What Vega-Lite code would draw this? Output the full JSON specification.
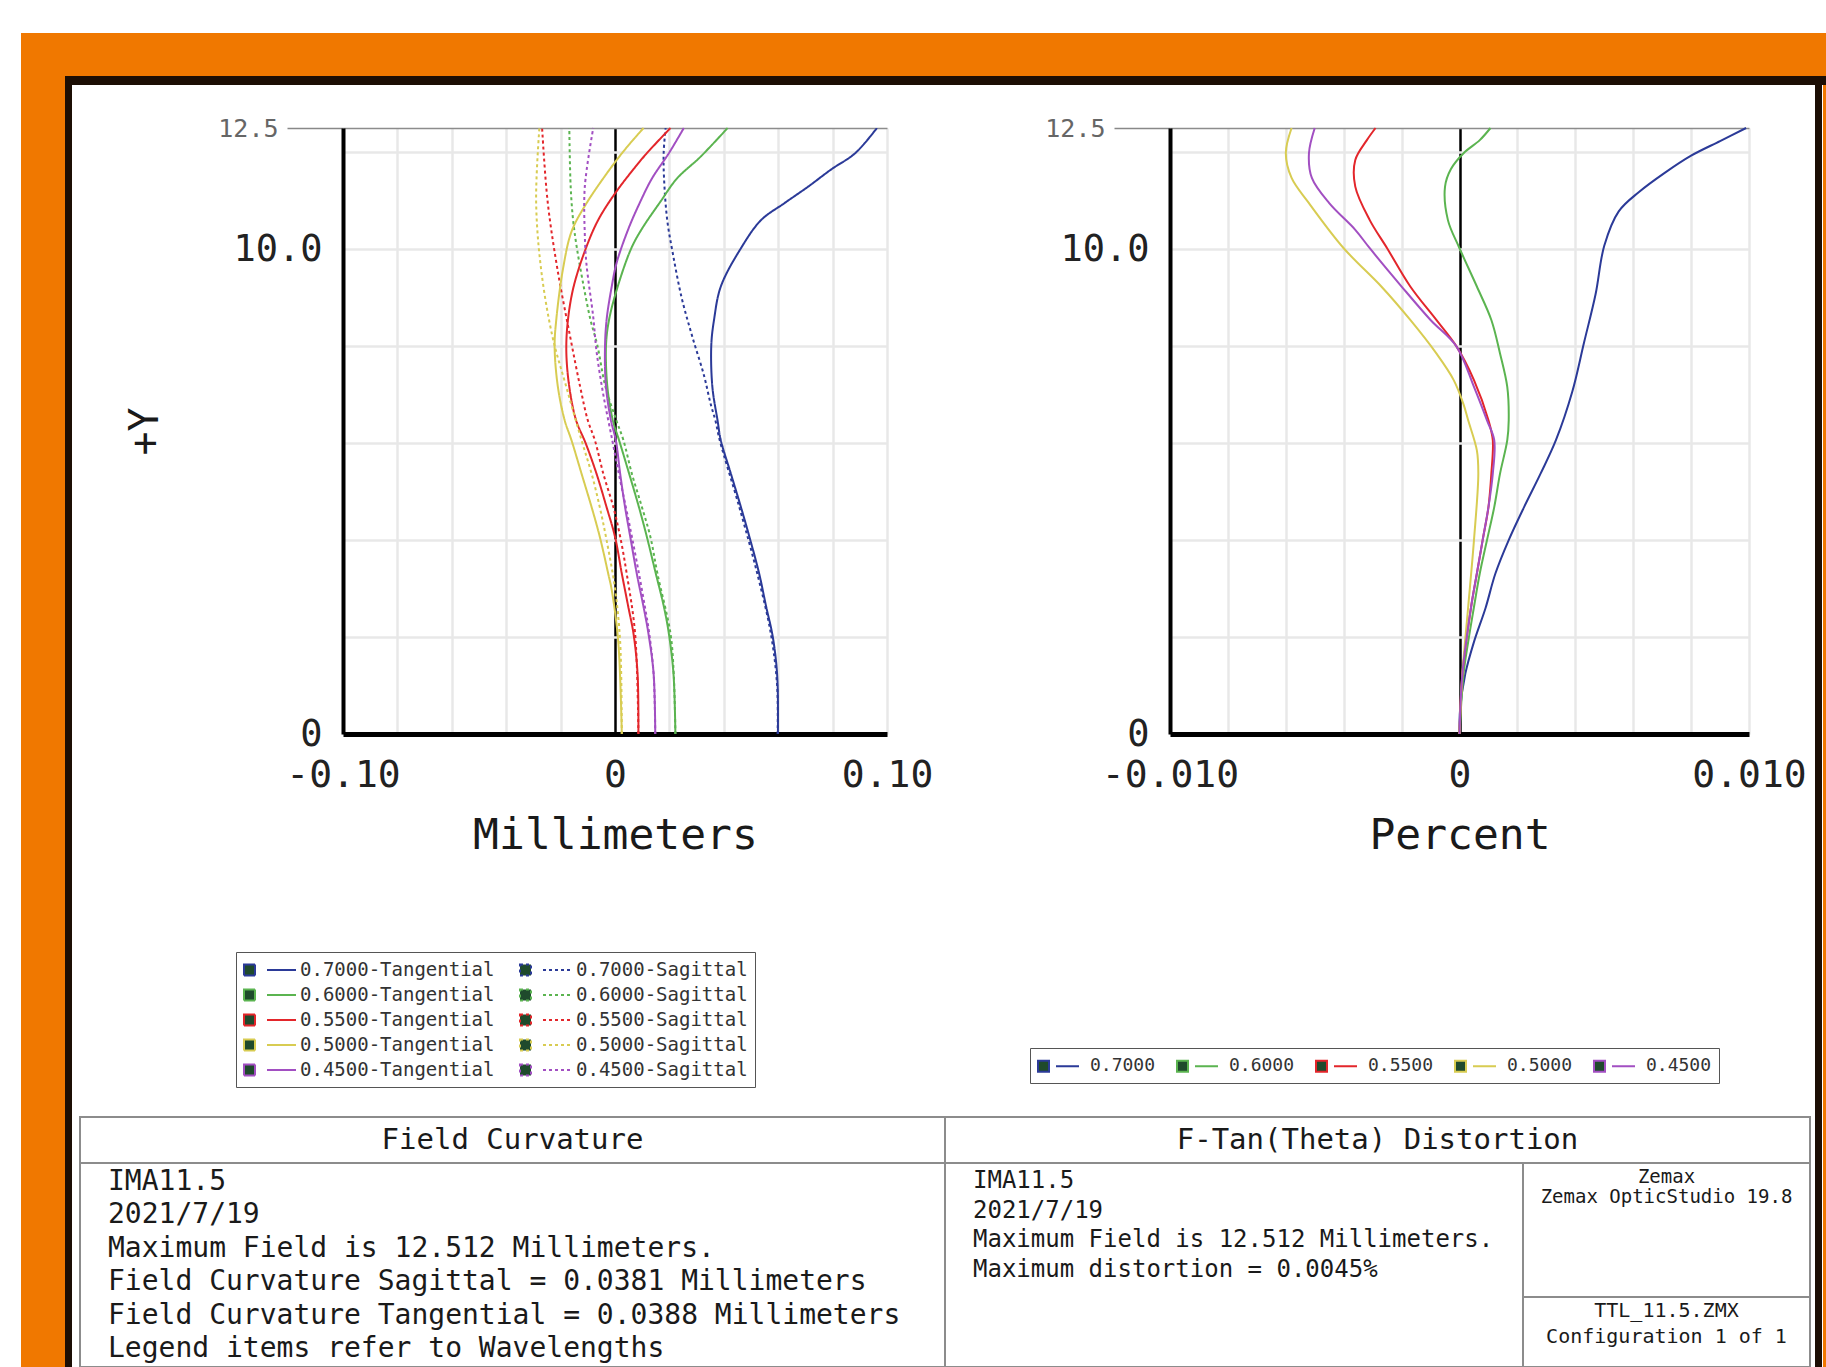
{
  "$schema": "https://vega.github.io/schema/vega-lite/v6.json",
  "background": "#ffffff",
  "padding": {"left": 21, "top": 33, "right": 0, "bottom": 0},
  "config": {"view": {"stroke": null}, "font": "DejaVu Sans Mono"},
  "datasets": {
    "fc": [
      {"series":"0.7000-Tangential","field":0,"shift":0.0599},{"series":"0.7000-Tangential","field":1,"shift":0.0598},{"series":"0.7000-Tangential","field":1.5,"shift":0.0592},{"series":"0.7000-Tangential","field":2.07,"shift":0.0578},{"series":"0.7000-Tangential","field":2.62,"shift":0.0556},{"series":"0.7000-Tangential","field":3.31,"shift":0.053},{"series":"0.7000-Tangential","field":4.07,"shift":0.0494},{"series":"0.7000-Tangential","field":4.68,"shift":0.0463},{"series":"0.7000-Tangential","field":5.37,"shift":0.0426},{"series":"0.7000-Tangential","field":6.06,"shift":0.0389},{"series":"0.7000-Tangential","field":6.47,"shift":0.0377},{"series":"0.7000-Tangential","field":7.16,"shift":0.0358},{"series":"0.7000-Tangential","field":8.02,"shift":0.0354},{"series":"0.7000-Tangential","field":8.54,"shift":0.0364},{"series":"0.7000-Tangential","field":9.23,"shift":0.0389},{"series":"0.7000-Tangential","field":10.02,"shift":0.0463},{"series":"0.7000-Tangential","field":10.6,"shift":0.0537},{"series":"0.7000-Tangential","field":10.95,"shift":0.0623},{"series":"0.7000-Tangential","field":11.29,"shift":0.071},{"series":"0.7000-Tangential","field":11.65,"shift":0.0796},{"series":"0.7000-Tangential","field":11.98,"shift":0.0883},{"series":"0.7000-Tangential","field":12.5,"shift":0.0963},
      {"series":"0.7000-Sagittal","field":0,"shift":0.0598},{"series":"0.7000-Sagittal","field":1,"shift":0.0596},{"series":"0.7000-Sagittal","field":2.07,"shift":0.0573},{"series":"0.7000-Sagittal","field":3.31,"shift":0.0523},{"series":"0.7000-Sagittal","field":4.68,"shift":0.0457},{"series":"0.7000-Sagittal","field":6.06,"shift":0.0385},{"series":"0.7000-Sagittal","field":6.47,"shift":0.0369},{"series":"0.7000-Sagittal","field":6.8,"shift":0.0352},{"series":"0.7000-Sagittal","field":7.4,"shift":0.0327},{"series":"0.7000-Sagittal","field":8.2,"shift":0.0284},{"series":"0.7000-Sagittal","field":9.0,"shift":0.0245},{"series":"0.7000-Sagittal","field":9.9,"shift":0.0213},{"series":"0.7000-Sagittal","field":10.6,"shift":0.0192},{"series":"0.7000-Sagittal","field":11.5,"shift":0.018},{"series":"0.7000-Sagittal","field":12.0,"shift":0.0179},{"series":"0.7000-Sagittal","field":12.5,"shift":0.0186},
      {"series":"0.6000-Tangential","field":0,"shift":0.0222},{"series":"0.6000-Tangential","field":1.24,"shift":0.0215},{"series":"0.6000-Tangential","field":2.07,"shift":0.0198},{"series":"0.6000-Tangential","field":2.62,"shift":0.018},{"series":"0.6000-Tangential","field":3.31,"shift":0.015},{"series":"0.6000-Tangential","field":4.07,"shift":0.0117},{"series":"0.6000-Tangential","field":4.68,"shift":0.0088},{"series":"0.6000-Tangential","field":5.37,"shift":0.0052},{"series":"0.6000-Tangential","field":6.06,"shift":0.0015},{"series":"0.6000-Tangential","field":6.47,"shift":-0.0008},{"series":"0.6000-Tangential","field":7.16,"shift":-0.0028},{"series":"0.6000-Tangential","field":8.02,"shift":-0.0033},{"series":"0.6000-Tangential","field":8.54,"shift":-0.0022},{"series":"0.6000-Tangential","field":9.23,"shift":0.001},{"series":"0.6000-Tangential","field":10.02,"shift":0.006},{"series":"0.6000-Tangential","field":10.43,"shift":0.01},{"series":"0.6000-Tangential","field":10.98,"shift":0.0167},{"series":"0.6000-Tangential","field":11.46,"shift":0.0228},{"series":"0.6000-Tangential","field":11.91,"shift":0.0315},{"series":"0.6000-Tangential","field":12.5,"shift":0.0414},
      {"series":"0.6000-Sagittal","field":0,"shift":0.0222},{"series":"0.6000-Sagittal","field":1.24,"shift":0.0216},{"series":"0.6000-Sagittal","field":2.07,"shift":0.0204},{"series":"0.6000-Sagittal","field":3.31,"shift":0.0156},{"series":"0.6000-Sagittal","field":4.07,"shift":0.013},{"series":"0.6000-Sagittal","field":4.68,"shift":0.0099},{"series":"0.6000-Sagittal","field":5.37,"shift":0.0062},{"series":"0.6000-Sagittal","field":6.06,"shift":0.0031},{"series":"0.6000-Sagittal","field":6.47,"shift":0.0005},{"series":"0.6000-Sagittal","field":7.16,"shift":-0.0035},{"series":"0.6000-Sagittal","field":8.02,"shift":-0.0065},{"series":"0.6000-Sagittal","field":8.54,"shift":-0.009},{"series":"0.6000-Sagittal","field":9.23,"shift":-0.0115},{"series":"0.6000-Sagittal","field":10.02,"shift":-0.014},{"series":"0.6000-Sagittal","field":10.6,"shift":-0.0154},{"series":"0.6000-Sagittal","field":11.29,"shift":-0.0163},{"series":"0.6000-Sagittal","field":12.5,"shift":-0.0168},
      {"series":"0.5500-Tangential","field":0,"shift":0.0086},{"series":"0.5500-Tangential","field":1.24,"shift":0.0083},{"series":"0.5500-Tangential","field":2.07,"shift":0.0068},{"series":"0.5500-Tangential","field":2.62,"shift":0.0049},{"series":"0.5500-Tangential","field":3.31,"shift":0.0025},{"series":"0.5500-Tangential","field":4.07,"shift":0.0},{"series":"0.5500-Tangential","field":4.68,"shift":-0.0031},{"series":"0.5500-Tangential","field":5.37,"shift":-0.0068},{"series":"0.5500-Tangential","field":6.0,"shift":-0.0108},{"series":"0.5500-Tangential","field":6.47,"shift":-0.0143},{"series":"0.5500-Tangential","field":7.16,"shift":-0.0168},{"series":"0.5500-Tangential","field":7.9,"shift":-0.0179},{"series":"0.5500-Tangential","field":8.54,"shift":-0.0173},{"series":"0.5500-Tangential","field":9.23,"shift":-0.0152},{"series":"0.5500-Tangential","field":10.02,"shift":-0.0107},{"series":"0.5500-Tangential","field":10.6,"shift":-0.0062},{"series":"0.5500-Tangential","field":11.15,"shift":0.0},{"series":"0.5500-Tangential","field":11.65,"shift":0.0068},{"series":"0.5500-Tangential","field":11.98,"shift":0.0117},{"series":"0.5500-Tangential","field":12.5,"shift":0.0204},
      {"series":"0.5500-Sagittal","field":0,"shift":0.0086},{"series":"0.5500-Sagittal","field":2.07,"shift":0.0074},{"series":"0.5500-Sagittal","field":3.31,"shift":0.0043},{"series":"0.5500-Sagittal","field":4.07,"shift":0.0019},{"series":"0.5500-Sagittal","field":4.68,"shift":-0.0006},{"series":"0.5500-Sagittal","field":5.37,"shift":-0.0043},{"series":"0.5500-Sagittal","field":6.06,"shift":-0.0074},{"series":"0.5500-Sagittal","field":6.47,"shift":-0.01},{"series":"0.5500-Sagittal","field":7.16,"shift":-0.0128},{"series":"0.5500-Sagittal","field":8.2,"shift":-0.0165},{"series":"0.5500-Sagittal","field":9.6,"shift":-0.0212},{"series":"0.5500-Sagittal","field":11.0,"shift":-0.0248},{"series":"0.5500-Sagittal","field":12.5,"shift":-0.0268},
      {"series":"0.5000-Tangential","field":0,"shift":0.0025},{"series":"0.5000-Tangential","field":1.9,"shift":0.0012},{"series":"0.5000-Tangential","field":2.97,"shift":-0.0012},{"series":"0.5000-Tangential","field":3.31,"shift":-0.0025},{"series":"0.5000-Tangential","field":4.07,"shift":-0.0056},{"series":"0.5000-Tangential","field":4.68,"shift":-0.0086},{"series":"0.5000-Tangential","field":5.37,"shift":-0.0123},{"series":"0.5000-Tangential","field":6.06,"shift":-0.016},{"series":"0.5000-Tangential","field":6.47,"shift":-0.0185},{"series":"0.5000-Tangential","field":7.16,"shift":-0.021},{"series":"0.5000-Tangential","field":7.99,"shift":-0.0222},{"series":"0.5000-Tangential","field":8.54,"shift":-0.0216},{"series":"0.5000-Tangential","field":9.6,"shift":-0.0191},{"series":"0.5000-Tangential","field":10.36,"shift":-0.016},{"series":"0.5000-Tangential","field":10.9,"shift":-0.011},{"series":"0.5000-Tangential","field":11.65,"shift":-0.0019},{"series":"0.5000-Tangential","field":12.1,"shift":0.0043},{"series":"0.5000-Tangential","field":12.5,"shift":0.0105},
      {"series":"0.5000-Sagittal","field":0,"shift":0.0025},{"series":"0.5000-Sagittal","field":1.9,"shift":0.0019},{"series":"0.5000-Sagittal","field":3.0,"shift":0.0},{"series":"0.5000-Sagittal","field":4.0,"shift":-0.0031},{"series":"0.5000-Sagittal","field":4.68,"shift":-0.0056},{"series":"0.5000-Sagittal","field":5.37,"shift":-0.0086},{"series":"0.5000-Sagittal","field":6.06,"shift":-0.0123},{"series":"0.5000-Sagittal","field":7.16,"shift":-0.0179},{"series":"0.5000-Sagittal","field":8.2,"shift":-0.023},{"series":"0.5000-Sagittal","field":9.6,"shift":-0.0272},{"series":"0.5000-Sagittal","field":11.0,"shift":-0.029},{"series":"0.5000-Sagittal","field":12.5,"shift":-0.0278},
      {"series":"0.4500-Tangential","field":0,"shift":0.0148},{"series":"0.4500-Tangential","field":1.24,"shift":0.0142},{"series":"0.4500-Tangential","field":2.07,"shift":0.0123},{"series":"0.4500-Tangential","field":2.62,"shift":0.0105},{"series":"0.4500-Tangential","field":3.31,"shift":0.008},{"series":"0.4500-Tangential","field":4.07,"shift":0.0056},{"series":"0.4500-Tangential","field":4.68,"shift":0.0037},{"series":"0.4500-Tangential","field":5.37,"shift":0.0019},{"series":"0.4500-Tangential","field":6.06,"shift":0.0003},{"series":"0.4500-Tangential","field":6.47,"shift":-0.0015},{"series":"0.4500-Tangential","field":7.16,"shift":-0.0033},{"series":"0.4500-Tangential","field":7.9,"shift":-0.0037},{"series":"0.4500-Tangential","field":8.54,"shift":-0.0031},{"series":"0.4500-Tangential","field":9.23,"shift":-0.0012},{"series":"0.4500-Tangential","field":9.72,"shift":0.0006},{"series":"0.4500-Tangential","field":10.43,"shift":0.005},{"series":"0.4500-Tangential","field":10.98,"shift":0.0093},{"series":"0.4500-Tangential","field":11.46,"shift":0.0136},{"series":"0.4500-Tangential","field":11.98,"shift":0.0198},{"series":"0.4500-Tangential","field":12.5,"shift":0.0253},
      {"series":"0.4500-Sagittal","field":0,"shift":0.0148},{"series":"0.4500-Sagittal","field":1.24,"shift":0.0142},{"series":"0.4500-Sagittal","field":2.07,"shift":0.0126},{"series":"0.4500-Sagittal","field":2.62,"shift":0.011},{"series":"0.4500-Sagittal","field":3.31,"shift":0.0088},{"series":"0.4500-Sagittal","field":4.07,"shift":0.0062},{"series":"0.4500-Sagittal","field":4.68,"shift":0.004},{"series":"0.4500-Sagittal","field":5.37,"shift":0.0014},{"series":"0.4500-Sagittal","field":6.06,"shift":-0.001},{"series":"0.4500-Sagittal","field":7.0,"shift":-0.0043},{"series":"0.4500-Sagittal","field":7.9,"shift":-0.0068},{"series":"0.4500-Sagittal","field":8.6,"shift":-0.008},{"series":"0.4500-Sagittal","field":9.7,"shift":-0.0105},{"series":"0.4500-Sagittal","field":10.3,"shift":-0.0111},{"series":"0.4500-Sagittal","field":11.29,"shift":-0.0111},{"series":"0.4500-Sagittal","field":12.5,"shift":-0.008}
    ],
    "dist": [
      {"wl":"0.7000","field":0,"dist":0},{"wl":"0.7000","field":0.5,"dist":0.00002},{"wl":"0.7000","field":1.24,"dist":0.0002},{"wl":"0.7000","field":1.9,"dist":0.0005},{"wl":"0.7000","field":2.6,"dist":0.0009},{"wl":"0.7000","field":3.31,"dist":0.00124},{"wl":"0.7000","field":4.0,"dist":0.0017},{"wl":"0.7000","field":4.68,"dist":0.00223},{"wl":"0.7000","field":5.37,"dist":0.0028},{"wl":"0.7000","field":6.06,"dist":0.00333},{"wl":"0.7000","field":7.07,"dist":0.0039},{"wl":"0.7000","field":8.07,"dist":0.0043},{"wl":"0.7000","field":9.07,"dist":0.0047},{"wl":"0.7000","field":10.07,"dist":0.005},{"wl":"0.7000","field":10.78,"dist":0.0055},{"wl":"0.7000","field":11.18,"dist":0.0062},{"wl":"0.7000","field":11.58,"dist":0.0071},{"wl":"0.7000","field":11.93,"dist":0.008},{"wl":"0.7000","field":12.23,"dist":0.009},{"wl":"0.7000","field":12.5,"dist":0.0099},
      {"wl":"0.6000","field":0,"dist":0},{"wl":"0.6000","field":1.24,"dist":0.00014},{"wl":"0.6000","field":1.9,"dist":0.0003},{"wl":"0.6000","field":2.62,"dist":0.0005},{"wl":"0.6000","field":3.31,"dist":0.0007},{"wl":"0.6000","field":4.0,"dist":0.00095},{"wl":"0.6000","field":4.68,"dist":0.0012},{"wl":"0.6000","field":5.37,"dist":0.0014},{"wl":"0.6000","field":6.06,"dist":0.00165},{"wl":"0.6000","field":6.47,"dist":0.0017},{"wl":"0.6000","field":7.16,"dist":0.00165},{"wl":"0.6000","field":7.85,"dist":0.0014},{"wl":"0.6000","field":8.54,"dist":0.0011},{"wl":"0.6000","field":9.23,"dist":0.0006},{"wl":"0.6000","field":10.02,"dist":0.0},{"wl":"0.6000","field":10.6,"dist":-0.0004},{"wl":"0.6000","field":11.29,"dist":-0.0005},{"wl":"0.6000","field":11.65,"dist":-0.0003},{"wl":"0.6000","field":11.98,"dist":0.00014},{"wl":"0.6000","field":12.25,"dist":0.0007},{"wl":"0.6000","field":12.5,"dist":0.00107},
      {"wl":"0.5500","field":0,"dist":0},{"wl":"0.5500","field":1.24,"dist":0.0001},{"wl":"0.5500","field":2.62,"dist":0.0004},{"wl":"0.5500","field":3.31,"dist":0.0006},{"wl":"0.5500","field":4.0,"dist":0.0008},{"wl":"0.5500","field":4.68,"dist":0.001},{"wl":"0.5500","field":5.37,"dist":0.0011},{"wl":"0.5500","field":6.06,"dist":0.00115},{"wl":"0.5500","field":6.47,"dist":0.001},{"wl":"0.5500","field":7.3,"dist":0.0005},{"wl":"0.5500","field":7.99,"dist":-0.0001},{"wl":"0.5500","field":8.54,"dist":-0.0008},{"wl":"0.5500","field":9.23,"dist":-0.0017},{"wl":"0.5500","field":10.02,"dist":-0.0025},{"wl":"0.5500","field":10.6,"dist":-0.0031},{"wl":"0.5500","field":11.29,"dist":-0.0036},{"wl":"0.5500","field":11.84,"dist":-0.0036},{"wl":"0.5500","field":12.25,"dist":-0.0032},{"wl":"0.5500","field":12.5,"dist":-0.0029},
      {"wl":"0.5000","field":0,"dist":0},{"wl":"0.5000","field":1.24,"dist":0.0001},{"wl":"0.5000","field":2.62,"dist":0.0003},{"wl":"0.5000","field":4.0,"dist":0.0005},{"wl":"0.5000","field":5.37,"dist":0.00065},{"wl":"0.5000","field":5.85,"dist":0.0006},{"wl":"0.5000","field":6.47,"dist":0.0003},{"wl":"0.5000","field":6.8,"dist":0.00014},{"wl":"0.5000","field":7.3,"dist":-0.0002},{"wl":"0.5000","field":7.85,"dist":-0.0008},{"wl":"0.5000","field":8.54,"dist":-0.0017},{"wl":"0.5000","field":9.23,"dist":-0.0027},{"wl":"0.5000","field":10.02,"dist":-0.004},{"wl":"0.5000","field":10.95,"dist":-0.0052},{"wl":"0.5000","field":11.47,"dist":-0.0058},{"wl":"0.5000","field":11.98,"dist":-0.006},{"wl":"0.5000","field":12.5,"dist":-0.0058},
      {"wl":"0.4500","field":0,"dist":0},{"wl":"0.4500","field":1.24,"dist":0.0001},{"wl":"0.4500","field":2.62,"dist":0.0004},{"wl":"0.4500","field":3.31,"dist":0.0006},{"wl":"0.4500","field":4.0,"dist":0.0008},{"wl":"0.4500","field":4.68,"dist":0.001},{"wl":"0.4500","field":5.37,"dist":0.00115},{"wl":"0.4500","field":6.06,"dist":0.0012},{"wl":"0.4500","field":6.47,"dist":0.00095},{"wl":"0.4500","field":7.16,"dist":0.0005},{"wl":"0.4500","field":7.99,"dist":-0.0001},{"wl":"0.4500","field":8.54,"dist":-0.001},{"wl":"0.4500","field":9.23,"dist":-0.002},{"wl":"0.4500","field":10.02,"dist":-0.0031},{"wl":"0.4500","field":10.4,"dist":-0.0036},{"wl":"0.4500","field":10.95,"dist":-0.0045},{"wl":"0.4500","field":11.47,"dist":-0.0051},{"wl":"0.4500","field":11.98,"dist":-0.0052},{"wl":"0.4500","field":12.5,"dist":-0.005}
    ]
  },
  "spacing": 0,
  "bounds": "flush",
  "vconcat": [
    {"width": 1805, "height": 43, "view": {"fill": "#f07800"}, "data": {"values": [{}]}, "mark": {"type": "point", "opacity": 0}},
    {
      "spacing": 0, "bounds": "flush",
      "hconcat": [
        {"width": 44, "height": 1291, "view": {"fill": "#f07800"}, "data": {"values": [{}]}, "mark": {"type": "point", "opacity": 0}},
        {
          "spacing": 0, "bounds": "flush",
          "vconcat": [
            {"width": 1761, "height": 9, "view": {"fill": "#1c0e04"}, "data": {"values": [{}]}, "mark": {"type": "point", "opacity": 0}},
            {
              "spacing": 0, "bounds": "full",
              "hconcat": [
                {"width": 7, "height": 1282, "view": {"fill": "#1c0e04"}, "data": {"values": [{}]}, "mark": {"type": "point", "opacity": 0}},
                {
                  "spacing": 0, "bounds": "flush",
                  "vconcat": [
                    {"width": 1743, "height": 43, "data": {"values": [{}]}, "mark": {"type": "point", "opacity": 0}},
                    {
                      "spacing": 0, "bounds": "flush",
                      "resolve": {"scale": {"color": "independent", "stroke": "independent", "strokeDash": "independent"}, "legend": {"color": "independent", "stroke": "independent", "strokeDash": "independent"}},
                      "hconcat": [
                        {"width": 271, "height": 606, "data": {"values": [{}]}, "mark": {"type": "point", "opacity": 0}},
                        {
                          "width": 544, "height": 606,
                          "data": {"name": "fc"},
                          "mark": {"type": "line", "strokeWidth": 2, "interpolate": "catmull-rom"},
                          "encoding": {
                            "x": {"field": "shift", "type": "quantitative", "scale": {"domain": [-0.1, 0.1], "nice": false, "zero": false},
                              "axis": {"values": [-0.1,-0.08,-0.06,-0.04,-0.02,0,0.02,0.04,0.06,0.08,0.1],
                                "labelExpr": "datum.value == 0 ? '0' : datum.value < -0.099 ? '-0.10' : datum.value > 0.099 ? '0.10' : ''",
                                "title": "Millimeters", "titleFontSize": 43, "titleFontWeight": "normal", "titleColor": "#1a1a1a", "titlePadding": 20,
                                "labelFontSize": 38, "labelColor": "#222222", "labelPadding": 22, "labelFlush": false, "labelOverlap": false,
                                "ticks": false, "tickSize": 0, "domainColor": "#000000", "domainWidth": 5,
                                "grid": true, "gridColor": {"condition": {"test": "datum.value == 0", "value": "#000000"}, "value": "#e8e8e8"}, "gridWidth": 2.5}},
                            "y": {"field": "field", "type": "quantitative", "scale": {"domain": [0, 12.5], "nice": false, "zero": false},
                              "axis": {"values": [0,2,4,6,8,10,12,12.5],
                                "labelExpr": "datum.value == 0 ? '0' : datum.value == 10 ? '10.0' : datum.value == 12.5 ? '12.5' : ''",
                                "title": "+Y", "titleFontSize": 40, "titleFontWeight": "normal", "titleColor": "#1a1a1a", "titlePadding": 52,
                                "labelFontSize": {"condition": {"test": "datum.value == 12.5", "value": 25}, "value": 37},
                                "labelColor": {"condition": {"test": "datum.value == 12.5", "value": "#666666"}, "value": "#222222"},
                                "labelPadding": {"condition": {"test": "datum.value == 12.5", "value": 9}, "value": 21},
                                "tickSize": {"condition": {"test": "datum.value == 12.5", "value": 56}, "value": 0},
                                "tickColor": "#888888", "tickWidth": 1.5,
                                "labelFlush": false, "labelOverlap": false,
                                "domainColor": "#000000", "domainWidth": 4,
                                "grid": true,
                                "gridColor": {"condition": {"test": "datum.value == 12.5", "value": "#8c8c8c"}, "value": "#e8e8e8"},
                                "gridWidth": {"condition": {"test": "datum.value == 12.5", "value": 1.5}, "value": 2.5}}},
                            "stroke": {"field": "series", "type": "nominal",
                              "scale": {"domain": ["0.7000-Tangential","0.6000-Tangential","0.5500-Tangential","0.5000-Tangential","0.4500-Tangential","0.7000-Sagittal","0.6000-Sagittal","0.5500-Sagittal","0.5000-Sagittal","0.4500-Sagittal"],
                                "range": ["#2b3a98","#5bb450","#e3262b","#d8cc52","#a24fc2","#2b3a98","#5bb450","#e3262b","#d8cc52","#a24fc2"]},
                              "legend": {"orient": "none", "legendX": -107, "legendY": 824, "title": null, "columns": 2,
                                "symbolType": "M-1,-0.55H0.1V0.55H-1Z M1.3,0H4.2", "symbolSize": 400, "symbolStrokeWidth": 2, "symbolFillColor": "#1f4a2c",
                                "labelFontSize": 19, "labelColor": "#333333", "labelOffset": 35, "labelLimit": 400,
                                "rowPadding": 4, "columnPadding": 21, "padding": 7, "strokeColor": "#555555"}},
                            "strokeDash": {"field": "series", "type": "nominal",
                              "scale": {"domain": ["0.7000-Tangential","0.6000-Tangential","0.5500-Tangential","0.5000-Tangential","0.4500-Tangential","0.7000-Sagittal","0.6000-Sagittal","0.5500-Sagittal","0.5000-Sagittal","0.4500-Sagittal"],
                                "range": [[1,0],[1,0],[1,0],[1,0],[1,0],[3,3],[3,3],[3,3],[3,3],[3,3]]}},
                            "order": {"field": "field", "type": "quantitative"}
                          }
                        },
                        {"width": 283, "height": 606, "data": {"values": [{}]}, "mark": {"type": "point", "opacity": 0}},
                        {
                          "width": 579, "height": 606,
                          "data": {"name": "dist"},
                          "mark": {"type": "line", "strokeWidth": 2, "interpolate": "catmull-rom"},
                          "encoding": {
                            "x": {"field": "dist", "type": "quantitative", "scale": {"domain": [-0.01, 0.01], "nice": false, "zero": false},
                              "axis": {"values": [-0.01,-0.008,-0.006,-0.004,-0.002,0,0.002,0.004,0.006,0.008,0.01],
                                "labelExpr": "datum.value == 0 ? '0' : datum.value < -0.0099 ? '-0.010' : datum.value > 0.0099 ? '0.010' : ''",
                                "title": "Percent", "titleFontSize": 43, "titleFontWeight": "normal", "titleColor": "#1a1a1a", "titlePadding": 20,
                                "labelFontSize": 38, "labelColor": "#222222", "labelPadding": 22, "labelFlush": false, "labelOverlap": false,
                                "ticks": false, "tickSize": 0, "domainColor": "#000000", "domainWidth": 5,
                                "grid": true, "gridColor": {"condition": {"test": "datum.value == 0", "value": "#000000"}, "value": "#e8e8e8"}, "gridWidth": 2.5}},
                            "y": {"field": "field", "type": "quantitative", "scale": {"domain": [0, 12.5], "nice": false, "zero": false},
                              "axis": {"values": [0,2,4,6,8,10,12,12.5],
                                "labelExpr": "datum.value == 0 ? '0' : datum.value == 10 ? '10.0' : datum.value == 12.5 ? '12.5' : ''",
                                "title": null,
                                "labelFontSize": {"condition": {"test": "datum.value == 12.5", "value": 25}, "value": 37},
                                "labelColor": {"condition": {"test": "datum.value == 12.5", "value": "#666666"}, "value": "#222222"},
                                "labelPadding": {"condition": {"test": "datum.value == 12.5", "value": 9}, "value": 21},
                                "tickSize": {"condition": {"test": "datum.value == 12.5", "value": 56}, "value": 0},
                                "tickColor": "#888888", "tickWidth": 1.5,
                                "labelFlush": false, "labelOverlap": false,
                                "domainColor": "#000000", "domainWidth": 4,
                                "grid": true,
                                "gridColor": {"condition": {"test": "datum.value == 12.5", "value": "#8c8c8c"}, "value": "#e8e8e8"},
                                "gridWidth": {"condition": {"test": "datum.value == 12.5", "value": 1.5}, "value": 2.5}}},
                            "color": {"field": "wl", "type": "nominal",
                              "scale": {"domain": ["0.7000","0.6000","0.5500","0.5000","0.4500"], "range": ["#2b3a98","#5bb450","#e3262b","#d8cc52","#a24fc2"]},
                              "legend": {"orient": "none", "legendX": -140, "legendY": 920, "title": null, "direction": "horizontal",
                                "symbolType": "M-1,-0.55H0.1V0.55H-1Z M0.8,0H3.1", "symbolSize": 400, "symbolStrokeWidth": 2, "symbolFillColor": "#1f4a2c",
                                "labelFontSize": 18, "labelColor": "#333333", "labelOffset": 31, "columnPadding": 17, "padding": 7, "strokeColor": "#555555"}},
                            "order": {"field": "field", "type": "quantitative"}
                          }
                        },
                        {"width": 66, "height": 606, "data": {"values": [{}]}, "mark": {"type": "point", "opacity": 0}}
                      ]
                    },
                    {"width": 1743, "height": 989, "data": {"values": [{}]}, "mark": {"type": "point", "opacity": 0}},
                    {
                      "spacing": 0, "bounds": "flush",
                      "hconcat": [
                        {"width": 8, "height": 250, "data": {"values": [{}]}, "mark": {"type": "point", "opacity": 0}},
                        {
                          "spacing": 0, "bounds": "flush",
                          "vconcat": [
                            {
                              "spacing": 0, "bounds": "flush",
                              "hconcat": [
                                {"width": 865, "height": 46, "view": {"stroke": "#8c8c8c", "strokeWidth": 2},
                                 "data": {"values": [{"text": "Field Curvature"}]},
                                 "mark": {"type": "text", "fontSize": 29, "color": "#1a1a1a", "baseline": "middle"},
                                 "encoding": {"text": {"field": "text"}}},
                                {"width": 865, "height": 46, "view": {"stroke": "#8c8c8c", "strokeWidth": 2},
                                 "data": {"values": [{"text": "F-Tan(Theta) Distortion"}]},
                                 "mark": {"type": "text", "fontSize": 29, "color": "#1a1a1a", "baseline": "middle"},
                                 "encoding": {"text": {"field": "text"}}}
                              ]
                            },
                            {"width": 10, "height": 46, "data": {"values": [{}]}, "mark": {"type": "point", "opacity": 0}},
                            {
                              "spacing": 0, "bounds": "flush",
                              "hconcat": [
                                {"width": 865, "height": 204, "view": {"stroke": "#8c8c8c", "strokeWidth": 2},
                                 "data": {"values": [
                                   {"line": 1, "text": "IMA11.5"},
                                   {"line": 2, "text": "2021/7/19"},
                                   {"line": 3, "text": "Maximum Field is 12.512 Millimeters."},
                                   {"line": 4, "text": "Field Curvature Sagittal = 0.0381 Millimeters"},
                                   {"line": 5, "text": "Field Curvature Tangential = 0.0388 Millimeters"},
                                   {"line": 6, "text": "Legend items refer to Wavelengths"}]},
                                 "mark": {"type": "text", "fontSize": 28, "color": "#1a1a1a", "align": "left", "baseline": "middle", "dx": 28},
                                 "encoding": {
                                   "x": {"datum": 0, "type": "quantitative", "scale": {"domain": [0, 1]}, "axis": null},
                                   "y": {"field": "line", "type": "quantitative", "scale": {"domain": [0.431, 6.539], "reverse": true, "nice": false, "zero": false}, "axis": null},
                                   "text": {"field": "text"}}},
                                {"width": 578, "height": 204, "view": {"stroke": "#8c8c8c", "strokeWidth": 2},
                                 "data": {"values": [
                                   {"line": 1, "text": "IMA11.5"},
                                   {"line": 2, "text": "2021/7/19"},
                                   {"line": 3, "text": "Maximum Field is 12.512 Millimeters."},
                                   {"line": 4, "text": "Maximum distortion = 0.0045%"}]},
                                 "mark": {"type": "text", "fontSize": 24, "color": "#1a1a1a", "align": "left", "baseline": "middle", "dx": 28},
                                 "encoding": {
                                   "x": {"datum": 0, "type": "quantitative", "scale": {"domain": [0, 1]}, "axis": null},
                                   "y": {"field": "line", "type": "quantitative", "scale": {"domain": [0.4, 7.27], "reverse": true, "nice": false, "zero": false}, "axis": null},
                                   "text": {"field": "text"}}},
                                {
                                  "spacing": 0, "bounds": "flush",
                                  "vconcat": [
                                    {"width": 287, "height": 134, "view": {"stroke": "#8c8c8c", "strokeWidth": 2},
                                     "data": {"values": [{"line": 1, "text": "Zemax"}, {"line": 2, "text": "Zemax OpticStudio 19.8"}]},
                                     "mark": {"type": "text", "fontSize": 19, "color": "#1a1a1a", "baseline": "middle"},
                                     "encoding": {
                                       "y": {"field": "line", "type": "quantitative", "scale": {"domain": [0.3, 7], "reverse": true, "nice": false, "zero": false}, "axis": null},
                                       "text": {"field": "text"}}},
                                    {"width": 287, "height": 70, "view": {"stroke": "#8c8c8c", "strokeWidth": 2},
                                     "data": {"values": [{"line": 1, "text": "TTL_11.5.ZMX"}, {"line": 2, "text": "Configuration 1 of 1"}]},
                                     "mark": {"type": "text", "fontSize": 20, "color": "#1a1a1a", "baseline": "middle"},
                                     "encoding": {
                                       "y": {"field": "line", "type": "quantitative", "scale": {"domain": [0.4615, 3.154], "reverse": true, "nice": false, "zero": false}, "axis": null},
                                       "text": {"field": "text"}}}
                                  ]
                                }
                              ]
                            }
                          ]
                        },
                        {"width": 5, "height": 250, "data": {"values": [{}]}, "mark": {"type": "point", "opacity": 0}}
                      ]
                    }
                  ]
                },
                {"width": 7, "height": 1282, "view": {"fill": "#1c0e04"}, "data": {"values": [{}]}, "mark": {"type": "point", "opacity": 0}},
                {"width": 4, "height": 1282, "view": {"fill": "#f07800"}, "data": {"values": [{}]}, "mark": {"type": "point", "opacity": 0}}
              ]
            }
          ]
        }
      ]
    }
  ]
}
